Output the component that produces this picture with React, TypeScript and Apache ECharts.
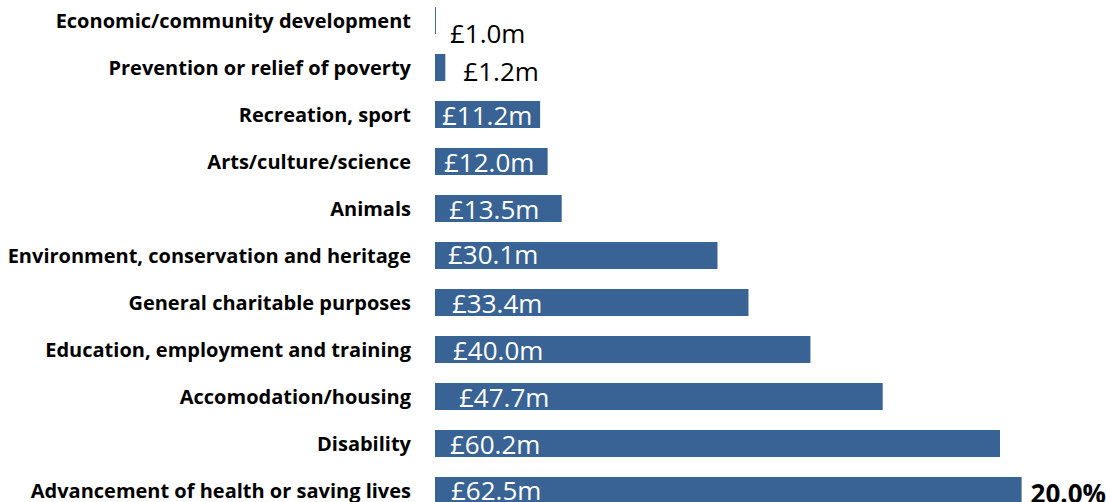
import React, { useEffect, useRef } from "react";
import * as echarts from "echarts";

const categories = [
  "Economic/community development",
  "Prevention or relief of poverty",
  "Recreation, sport",
  "Arts/culture/science",
  "Animals",
  "Environment, conservation and heritage",
  "General charitable purposes",
  "Education, employment and training",
  "Accomodation/housing",
  "Disability",
  "Advancement of health or saving lives",
];

// bar lengths as drawn (£m)
const barValues = [0.1, 1.1, 11.2, 12.0, 13.5, 30.1, 33.4, 40.0, 47.7, 60.2, 62.5];
// value labels shown
const amountLabels = ["£1.0m", "£1.2m", "£11.2m", "£12.0m", "£13.5m", "£30.1m", "£33.4m", "£40.0m", "£47.7m", "£60.2m", "£62.5m"];
const shareLabels = ["", "", "", "", "", "", "", "", "", "", "20.0%"];

// label offsets (styling only)
const labelOffsets: [number, number][] = [
  [14, 12], [18, 3], [7, 0], [9, 0], [14, 0], [13, -2], [17, 0], [18, 0], [24, 0], [15, 0], [16, -1],
];

const BAR = "#386394";
const FONT = "'Open Sans', sans-serif";

export default function App() {
  const ref = useRef<HTMLDivElement>(null);
  useEffect(() => {
    document.body.style.margin = "0";
    const chart = echarts.init(ref.current!, null, { renderer: "svg" });
    const mainData = barValues.map((v, i) => {
      const outside = i < 2;
      return {
        value: v,
        label: {
          show: true,
          position: outside ? "right" : "insideLeft",
          distance: 0,
          offset: labelOffsets[i],
          color: outside ? "#000000" : "#ffffff",
          fontSize: 26,
          fontFamily: FONT,
          formatter: () => amountLabels[i],
        },
      };
    });
    chart.setOption({
      animation: false,
      grid: { left: 435, top: -3, width: 657, height: 517, containLabel: false, outerBoundsMode: "none" },
      xAxis: { type: "value", min: 0, max: 70, show: false },
      yAxis: {
        type: "category",
        data: categories,
        inverse: true,
        axisLine: { show: false },
        axisTick: { show: false },
        axisLabel: {
          margin: 24,
          color: "#000000",
          fontWeight: "bold",
          fontSize: 20,
          fontFamily: FONT,
        },
      },
      series: [
        {
          type: "bar",
          data: mainData,
          barWidth: 27,
          itemStyle: { color: BAR },
        },
        {
          type: "bar",
          data: barValues,
          barWidth: 27,
          barGap: "-100%",
          silent: true,
          itemStyle: { color: "transparent" },
          label: {
            show: true,
            position: "right",
            distance: 9,
            color: "#000000",
            fontWeight: "bold",
            fontSize: 26,
            fontFamily: FONT,
            offset: [0, 2],
            formatter: (p: any) => shareLabels[p.dataIndex],
          },
        },
      ],
    });
    return () => chart.dispose();
  }, []);
  return <div ref={ref} style={{ width: 1106, height: 502 }} />;
}
